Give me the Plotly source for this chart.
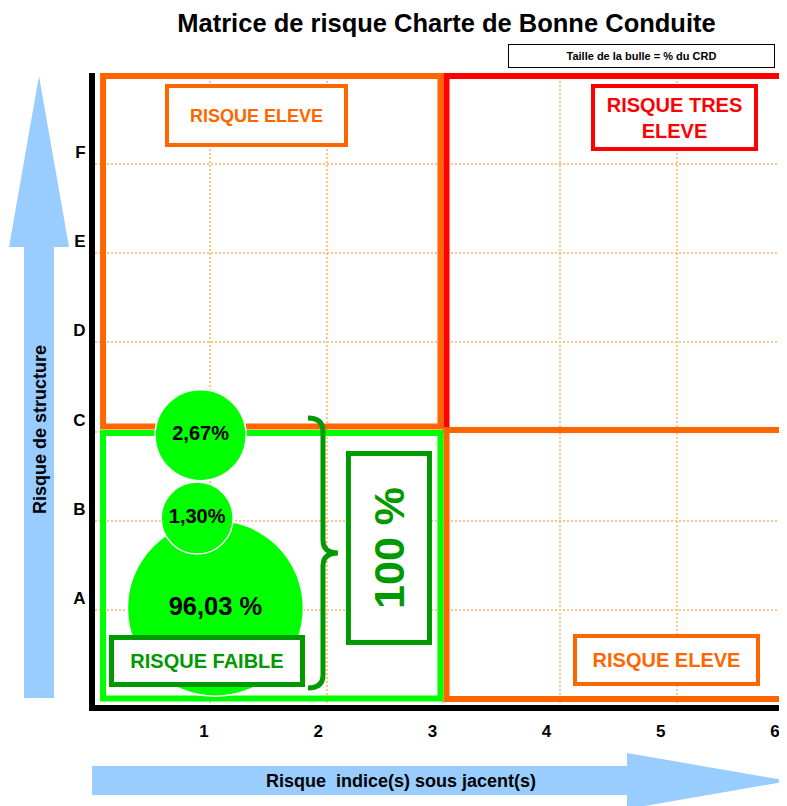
import plotly.graph_objects as go

# matrice de risque : bulles = part du CRD par case (indice x structure)

niveaux_structure = ["A", "B", "C", "D", "E", "F"]
indices_sous_jacents = [1, 2, 3, 4, 5, 6]

# position des bulles (axe des indices)
bulle_x = [1.10, 0.94, 0.97]
bulle_y = [1.02, 2.03, 2.96]
bulle_pct = [96.03, 1.30, 2.67]
bulle_txt = ["96,03 %", "1,30%", "2,67%"]
total_txt = "100 %"

# styles (taille des bulles en px, police)
bulle_diam = [176, 72, 91]
bulle_police = [25.5, 20, 20]

POLICE = "Liberation Sans, Arial, sans-serif"
ORANGE = "#FF6600"
ROUGE = "#FF0000"
VERT = "#00FF00"
VERT_FONCE = "#009900"
BLEU = "#99CCFF"
GRILLE = "#FFC48C"

# la page html ajoute une marge de 8px autour de la figure, on en tient compte
OFF = 8
W, H = 787 - 2 * OFF, 806 - OFF
L, R, T, B = 95 - OFF, 0, 73 - OFF, 101


def pp(x, y):
    # pixels de l'image -> coordonnees paper (pour les decors hors du graphique)
    return (x - OFF - L) / (W - L - R), (H - B - (y - OFF)) / (H - T - B)


fig = go.Figure()

fig.add_trace(go.Scatter(
    x=bulle_x, y=bulle_y, xaxis="x2", yaxis="y", mode="markers+text",
    text=["<b>" + t + "</b>" for t in bulle_txt],
    textposition="middle center",
    textfont=dict(size=bulle_police, color="black", family=POLICE),
    marker=dict(size=bulle_diam, color=VERT, opacity=1,
                line=dict(color="white", width=1.5)),
    customdata=bulle_pct, hoverinfo="skip", showlegend=False, cliponaxis=False
))

# les 4 zones de risque
zones = [
    (0.084, 3.057, 2.974, 6.986, ORANGE),
    (3.026, 3.018, 6.4, 6.986, ROUGE),
    (3.026, 0.002, 6.4, 3.018, ORANGE),
    (0.084, 0.008, 2.974, 2.984, VERT),
]
for x0, y0, x1, y1, c in zones:
    fig.add_shape(type="rect", xref="x", yref="y", x0=x0, y0=y0, x1=x1, y1=y1,
                  line=dict(color=c, width=6), layer="between")

# accolade verte
fig.add_shape(type="path", xref="x", yref="y",
              path="M 1.839,3.152 Q 1.968,3.152 1.968,2.996 L 1.968,1.785 "
                   "Q 1.968,1.639 2.096,1.639 Q 1.968,1.639 1.968,1.493 "
                   "L 1.968,0.271 Q 1.968,0.126 1.839,0.126",
              line=dict(color=VERT_FONCE, width=5))

# fleches bleues des axes
def fleche(points):
    p = [pp(x, y) for x, y in points]
    return "M " + " L ".join(f"{a:.4f},{b:.4f}" for a, b in p) + " Z"

fig.add_shape(type="path", xref="paper", yref="paper", layer="below",
              path=fleche([(39, 76), (69, 247), (54, 247), (54, 698),
                           (24, 698), (24, 247), (9, 247)]),
              fillcolor=BLEU, line=dict(width=0))
fig.add_shape(type="path", xref="paper", yref="paper", layer="below",
              path=fleche([(92, 766), (627, 766), (627, 753), (789, 781),
                           (627, 809), (627, 795), (92, 795)]),
              fillcolor=BLEU, line=dict(width=0))

def boite(texte, x, y, couleur, taille, bw, w, h, angle=0):
    fig.add_annotation(x=x, y=y, xref="x", yref="y", showarrow=False,
                       text="<b>" + texte + "</b>", textangle=angle,
                       font=dict(family=POLICE, size=taille, color=couleur),
                       bgcolor="white", bordercolor=couleur, borderwidth=bw,
                       borderpad=0, width=w, height=h,
                       xanchor="center", yanchor="middle")

boite("RISQUE ELEVE", 1.398, 6.544, ORANGE, 18, 4, 175, 55)
boite("RISQUE TRES<br>ELEVE", 4.979, 6.521, ROUGE, 20, 4, 159, 59)
boite("RISQUE ELEVE", 4.910, 0.439, ORANGE, 20, 4, 179, 44)
boite("RISQUE FAIBLE", 0.974, 0.429, VERT_FONCE, 20, 5, 186, 42)
boite(total_txt, 2.533, 1.695, VERT_FONCE, 43, 5, 184, 76, angle=-90)

x, y = pp(641.5, 56)
fig.add_annotation(x=x, y=y, xref="paper", yref="paper", showarrow=False,
                   xanchor="center", yanchor="middle",
                   text="<b>Taille de la bulle = % du CRD</b>",
                   font=dict(family=POLICE, size=11, color="black"),
                   bgcolor="white", bordercolor="black", borderwidth=1,
                   borderpad=0, width=265, height=22)

x, y = pp(40, 430)
fig.add_annotation(x=x, y=y, xref="paper", yref="paper", showarrow=False,
                   xanchor="center", yanchor="middle",
                   text="<b>Risque de structure</b>", textangle=-90,
                   font=dict(family=POLICE, size=18, color="black"))
x, y = pp(401, 781)
fig.add_annotation(x=x, y=y, xref="paper", yref="paper", showarrow=False,
                   xanchor="center", yanchor="middle",
                   text="<b>Risque\u00a0 indice(s) sous jacent(s)</b>",
                   font=dict(family=POLICE, size=18, color="black"))

fig.update_layout(
    width=W, height=H,
    margin=dict(l=L, r=R, t=T, b=B),
    paper_bgcolor="white", plot_bgcolor="white",
    title=dict(text="<b>Matrice de risque Charte de Bonne Conduite</b>",
               x=(446.5 - OFF) / W, xref="container", xanchor="center",
               y=1 - (23 - OFF) / H, yref="container", yanchor="middle",
               font=dict(family=POLICE, size=25.5, color="black")),
    xaxis=dict(range=[0.015, 5.874], tick0=0, dtick=1, showticklabels=False,
               showgrid=True, gridcolor=GRILLE, griddash="2px,2px", gridwidth=2,
               zeroline=False, showline=True, linecolor="black", linewidth=6,
               ticks=""),
    xaxis2=dict(overlaying="x", side="bottom", anchor="y",
                range=[0.0455, 6.035], tickvals=indices_sous_jacents,
                showgrid=False, zeroline=False, showline=False, ticks="",
                tickfont=dict(family=POLICE, size=17, color="black", weight="bold"),
                ticklabelstandoff=14, ticklabeloverflow="allow", automargin=False),
    yaxis=dict(range=[-0.065, 7.02], tickvals=[1, 2, 3, 4, 5, 6],
               ticktext=niveaux_structure,
               showgrid=True, gridcolor=GRILLE, griddash="2px,2px", gridwidth=2,
               zeroline=False, showline=True, linecolor="black", linewidth=6,
               ticks="", ticklabelshift=-12, automargin=False,
               tickfont=dict(family=POLICE, size=17, color="black", weight="bold")),
    font=dict(family=POLICE),
)

fig.write_html("out.html")
